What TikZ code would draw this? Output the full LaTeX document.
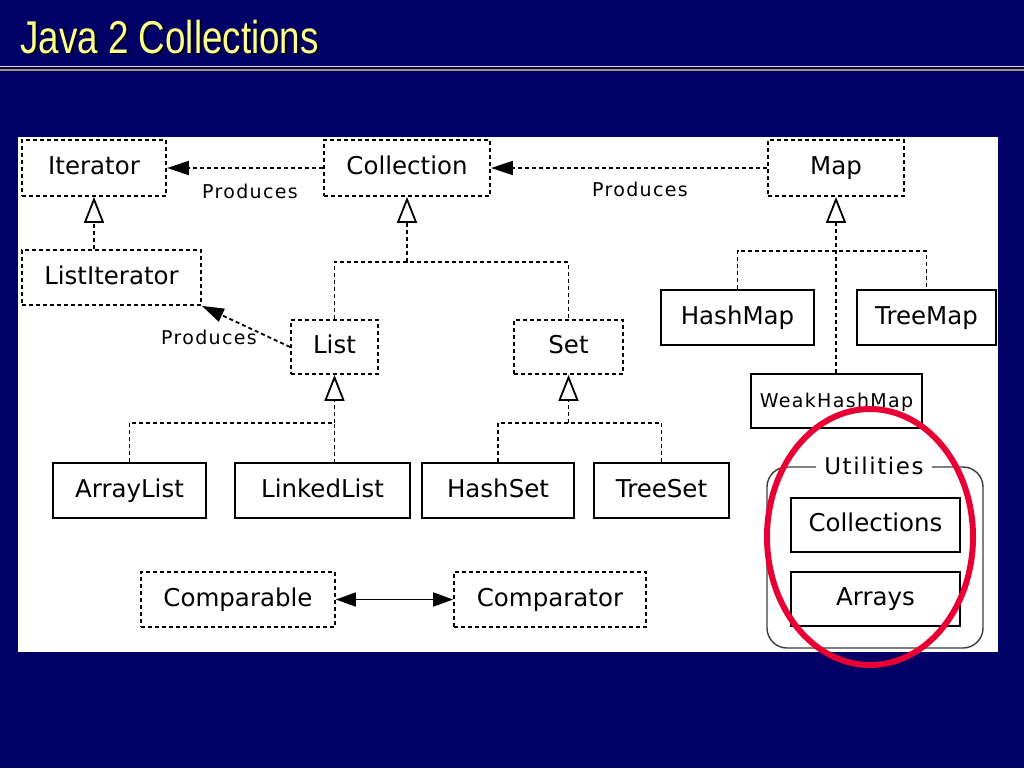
\documentclass[tikz,border=0pt]{standalone}
\usepackage{fontspec}
\usepackage{graphicx}
\usetikzlibrary{arrows.meta}
\newfontfamily\djfont{DejaVu Sans}
\newfontfamily\djspaced[LetterSpace=7]{DejaVu Sans}
\newfontfamily\tfont{Liberation Sans}
\definecolor{navybg}{RGB}{0,0,102}
\definecolor{titleyel}{RGB}{255,255,140}
\definecolor{ringred}{RGB}{232,0,52}
\definecolor{ruleA}{RGB}{232,224,176}
\definecolor{ruleB}{RGB}{160,150,110}
\definecolor{grpgray}{RGB}{60,60,60}
\tikzset{
  cls/.style={draw=black, line width=1.8pt, font=\djfont\fontsize{24.5}{24.5}\selectfont, text=black, inner sep=0pt, text height=18pt, text depth=5pt},
  solidbox/.style={cls},
  ifbox/.style={cls, dash pattern=on 4pt off 3pt},
  dotline/.style={line width=1.8pt, dash pattern=on 4pt off 3pt},
  inherit/.style={dotline, -{Triangle[open, length=26pt, width=20pt, line width=1.8pt]}},
  produces/.style={dotline, -{Triangle[length=22pt, width=14pt]}},
  lbl/.style={font=\djspaced\fontsize{19}{19}\selectfont, text=black, inner sep=0pt},
  titletext/.style={anchor=base west, inner sep=0pt, font=\tfont\fontsize{46}{46}\selectfont},
}
\begin{document}
\begin{tikzpicture}[x=1pt, y=-1pt]
\useasboundingbox (0,0) rectangle (1024,768);
\fill[navybg] (0,0) rectangle (1024,768);
% title
\node[titletext, text=black] (tshadow) at (22,55) {\scalebox{0.8}[1]{Java 2 Collections}};
\node[titletext, text=titleyel] (title) at (20,53) {\scalebox{0.8}[1]{Java 2 Collections}};
\draw[ruleA, line width=1.5pt] (0,66.5) -- (1024,66.5);
\draw[ruleB, line width=1.5pt] (0,70) -- (1024,70);
% panel
\fill[white] (18,137) rectangle (998,652);

% interfaces
\node[ifbox, minimum width=144pt, minimum height=56pt] (iter) at (94,168) {Iterator};
\node[ifbox, minimum width=166pt, minimum height=56pt] (coll) at (407,168) {Collection};
\node[ifbox, minimum width=136pt, minimum height=56pt] (map) at (836,168) {Map};
\node[ifbox, minimum width=179pt, minimum height=55pt] (litr) at (111.5,277.5) {ListIterator};
\node[ifbox, minimum width=87pt, minimum height=54pt] (list) at (334.5,347) {List};
\node[ifbox, minimum width=109pt, minimum height=54pt] (set) at (568.5,347) {Set};
\node[ifbox, minimum width=194pt, minimum height=55pt] (cmp) at (238,599.5) {Comparable};
\node[ifbox, minimum width=192pt, minimum height=55pt] (cmr) at (550,599.5) {Comparator};

% classes
\node[solidbox, minimum width=153pt, minimum height=55pt] (hm) at (737.5,317.5) {HashMap};
\node[solidbox, minimum width=139pt, minimum height=55pt] (tm) at (926.5,317.5) {TreeMap};
\node[solidbox, minimum width=171pt, minimum height=54pt, font=\djspaced\fontsize{19}{19}\selectfont] (whm) at (836.5,401) {WeakHashMap};
\node[solidbox, minimum width=153pt, minimum height=55pt] (al) at (129.5,490.5) {ArrayList};
\node[solidbox, minimum width=175pt, minimum height=55pt] (ll) at (322.5,490.5) {LinkedList};
\node[solidbox, minimum width=152pt, minimum height=55pt] (hs) at (498,490.5) {HashSet};
\node[solidbox, minimum width=135pt, minimum height=55pt] (ts) at (661.5,490.5) {TreeSet};
\node[solidbox, minimum width=169pt, minimum height=54pt] (colls) at (875.5,525) {Collections};
\node[solidbox, minimum width=169pt, minimum height=54pt] (arrs) at (875.5,599) {Arrays};

% produces connectors
\draw[produces] (coll.west) -- (iter.east);
\draw[produces] (map.west) -- (coll.east);
\draw[produces] (list.west) -- (litr.south east);
\node[lbl] (p1) at (250,191) {Produces};
\node[lbl] (p2) at (640,189) {Produces};
\node[lbl] (p3) at (209,337) {Produces};

% inheritance
\draw[inherit] (iter.south |- litr.north) -- (iter.south);

\coordinate (jc) at (coll.south |- 0,262);
\draw[inherit] (jc) -- (coll.south);
\draw[dotline] (list.north) |- (jc) -| (set.north);

\coordinate (jm) at (map.south |- 0,251);
\draw[inherit] (map.south |- whm.north) -- (map.south);
\draw[dotline] (hm.north) |- (jm) -| (tm.north);

\coordinate (jl) at (list.south |- 0,423);
\draw[inherit] (jl) -- (list.south);
\draw[dotline] (al.north) |- (jl) -- (jl |- ll.north);

\coordinate (js) at (set.south |- 0,423);
\draw[inherit] (js) -- (set.south);
\draw[dotline] (hs.north) |- (js) -| (ts.north);

% comparable <-> comparator
\draw[line width=1.8pt, {Triangle[length=20pt, width=14pt]}-{Triangle[length=20pt, width=14pt]}] (cmp.east) -- (cmr.west);

% utilities group
\node[lbl, font=\djspaced\fontsize{23}{23}\selectfont] (util) at (874,466) {Utilities};
\draw[grpgray, line width=1.4pt, rounded corners=20pt]
  ([xshift=-8pt]util.west |- 0,467) -- (767,467) -- (767,648) -- (983,648) -- (983,467) -- ([xshift=8pt]util.east |- 0,467);

% highlight ring
\draw[ringred, line width=6pt] (870,537) ellipse [x radius=103pt, y radius=128pt];
\end{tikzpicture}
\end{document}
